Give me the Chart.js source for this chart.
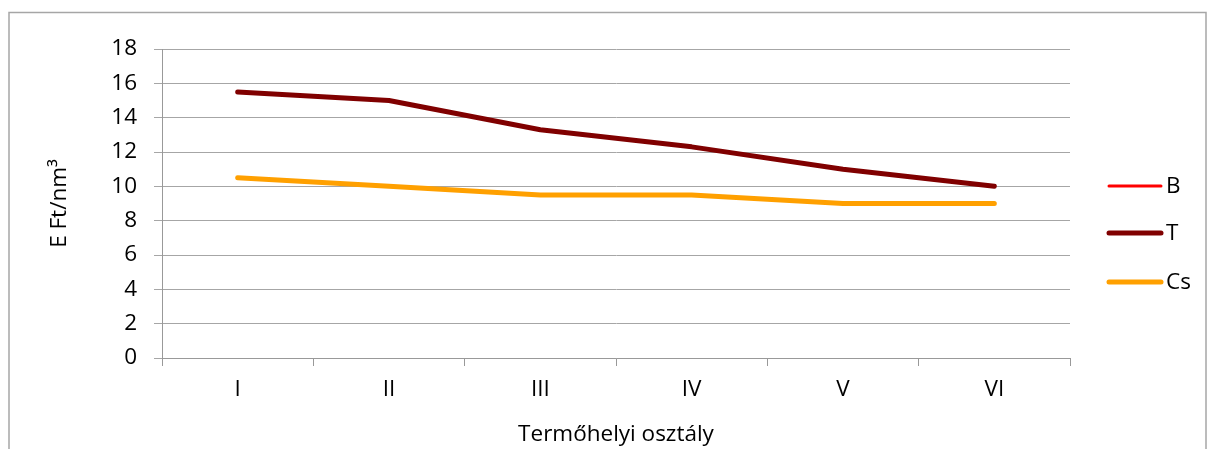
<!DOCTYPE html>
<html>
<head>
<meta charset="utf-8">
<script src="https://cdn.jsdelivr.net/npm/chart.js@4"></script>
<style>
  html, body { margin: 0; padding: 0; background: #fff; }
  #wrap { width: 1208px; height: 449px; }
</style>
</head>
<body>
<div id="wrap"><canvas id="c" width="1208" height="449"></canvas></div>
<script>
const categories = ['I', 'II', 'III', 'IV', 'V', 'VI'];
const seriesB = [];
const seriesT = [15.5, 15.0, 13.3, 12.3, 11.0, 10.0];
const seriesCs = [10.5, 10.0, 9.5, 9.5, 9.0, 9.0];
const yTicks = [0, 2, 4, 6, 8, 10, 12, 14, 16, 18];
const seriesNames = ['B', 'T', 'Cs'];
const xTitle = 'Termőhelyi osztály';
const yTitle = 'E Ft/nm³';

const FONT = "'Open Sans', 'Liberation Sans', sans-serif";
const FS = 22.5;

const frame = {
  id: 'frame',
  beforeDraw(chart) {
    const ctx = chart.ctx;
    ctx.save();
    ctx.fillStyle = '#fff';
    ctx.fillRect(0, 0, chart.width, chart.height);
    ctx.strokeStyle = '#a6a6a6';
    ctx.lineWidth = 1.5;
    ctx.strokeRect(9, 12.5, 1197, 460);
    ctx.restore();
  }
};

const legendPlugin = {
  id: 'customLegend',
  afterDraw(chart) {
    const ctx = chart.ctx;
    const ys = [186, 233, 282];
    ctx.save();
    chart.data.datasets.forEach((ds, i) => {
      const y = ys[i];
      ctx.strokeStyle = ds.borderColor;
      ctx.lineWidth = ds.legendWidth;
      ctx.lineCap = 'round';
      ctx.beginPath();
      ctx.moveTo(1109, y);
      ctx.lineTo(1161, y);
      ctx.stroke();
      ctx.fillStyle = '#000';
      ctx.font = FS + 'px ' + FONT;
      ctx.textBaseline = 'middle';
      ctx.textAlign = 'left';
      ctx.fillText(ds.label, 1166, y + 1);
    });
    ctx.restore();
  }
};

new Chart(document.getElementById('c'), {
  type: 'line',
  data: {
    labels: categories,
    datasets: [
      { label: seriesNames[0], data: seriesB, borderColor: '#ff0000', backgroundColor: '#ff0000', borderWidth: 3, legendWidth: 3 },
      { label: seriesNames[1], data: seriesT, borderColor: '#800000', backgroundColor: '#800000', borderWidth: 5, legendWidth: 5 },
      { label: seriesNames[2], data: seriesCs, borderColor: '#ffa000', backgroundColor: '#ffa000', borderWidth: 5, legendWidth: 5 }
    ].map(d => Object.assign(d, { pointRadius: 0, pointHoverRadius: 0, tension: 0, fill: false, borderCapStyle: 'round', borderJoinStyle: 'round' }))
  },
  options: {
    responsive: false,
    animation: false,
    events: [],
    layout: { padding: { left: 0, right: 138, top: 49, bottom: 0 } },
    plugins: { legend: { display: false }, tooltip: { enabled: false } },
    scales: {
      x: {
        offset: true,
        afterFit(s) { s.height = 91; },
        grid: { offset: true, drawOnChartArea: false, drawTicks: true, tickLength: 8, color: '#999', lineWidth: 1 },
        border: { display: true, color: '#999', width: 1 },
        ticks: { color: '#000', font: { family: FONT, size: FS }, padding: 10, maxRotation: 0 },
        title: { display: true, text: xTitle, color: '#000', font: { family: FONT, size: FS }, padding: { top: 0, bottom: 1 } }
      },
      y: {
        min: 0, max: 18,
        afterFit(s) { s.width = 162; },
        afterBuildTicks(s) { s.ticks = yTicks.map(v => ({ value: v })); },
        grid: { color: '#a6a6a6', lineWidth: 1, tickLength: 8, drawTicks: true },
        border: { display: true, color: '#999', width: 1 },
        ticks: { color: '#000', font: { family: FONT, size: FS }, padding: 17 },
        title: { display: true, text: yTitle, color: '#000', font: { family: FONT, size: FS }, padding: { top: 46, bottom: 0 } }
      }
    }
  },
  plugins: [frame, legendPlugin]
});
</script>
</body>
</html>
